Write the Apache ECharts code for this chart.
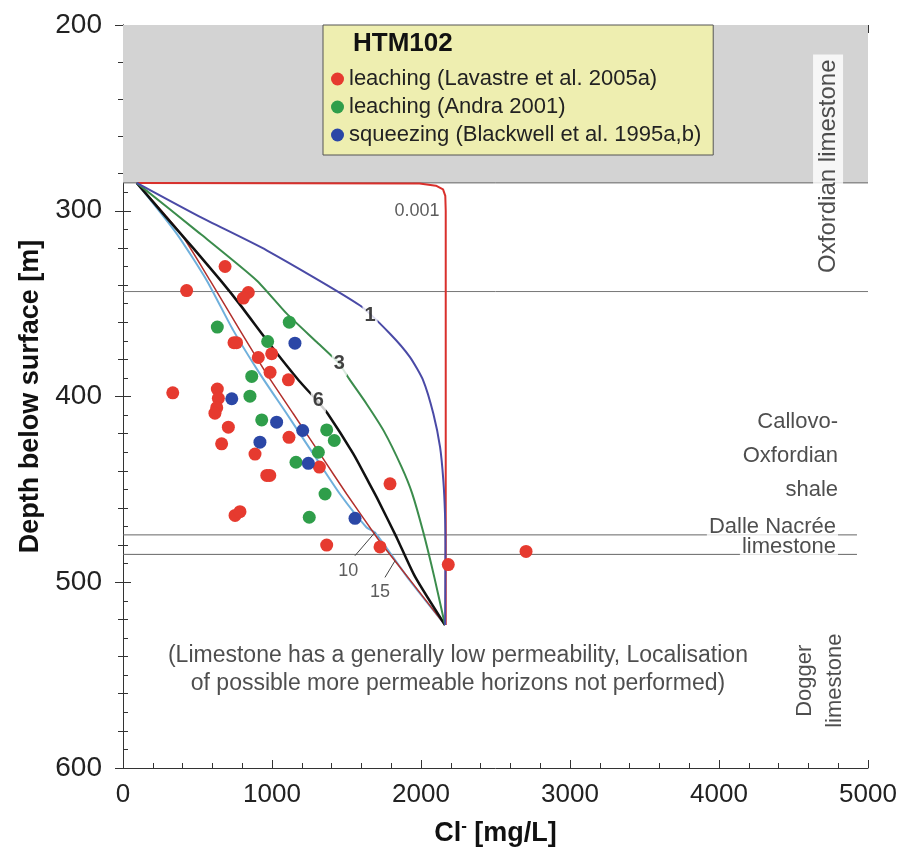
<!DOCTYPE html>
<html><head><meta charset="utf-8">
<script src="https://cdn.jsdelivr.net/npm/echarts/dist/echarts.min.js"></script>
<style>html,body{margin:0;padding:0;background:#fff}#c{width:905px;height:854px}</style>
</head><body><div id="c"></div>
<script>
// ---- data (Cl- mg/L, depth m) ----
const xTickValues = [0, 1000, 2000, 3000, 4000, 5000];
const yTickValues = [200, 300, 400, 500, 600];

const lavastre = [[427,343],[841,344],[808,347],[685,330],[745,371],[762,371],[908,379],[998,377],[987,387],[1110,391],[334,398],[633,396],[640,401],[629,406],[617,409],[707,416.5],[662,425.5],[1114,422],[886,431],[1318,438],[965,442.5],[985,442.5],[1792,447],[752,464],[785,462],[1367,480],[1725,481],[2183,490.5],[2705,483.4]];
const andra = [[633,362.6],[1116,360],[971,370.4],[864,389.2],[852,399.8],[931,412.6],[1367,418],[1418,423.7],[1311,430],[1161,435.4],[1356,452.5],[1250,465]];
const blackwell = [[1154,371.3],[730,401.2],[1031,413.8],[1206,418.3],[919,424.6],[1244,436],[1557,465.6]];

const curveT0001 = [[92,285],[1990,285.3],[2100,286.5],[2148,288.5],[2163,292],[2166,300],[2166,523]];
const curveT1 = [[92,285],[517,303.3],[964,321.3],[1591,351],[1792,366.2],[1926,378.8],[2015,391.4],[2083,409.3],[2128,427.3],[2150,445.3],[2161,463],[2164,480],[2162,523]];
const curveT3 = [[92,285],[517,312.3],[897,337.5],[1099,355.4],[1300,370.7],[1452,382.4],[1518,390.5],[1635,404],[1750,418.5],[1870,438],[1940,452],[2015,473],[2090,497.5],[2161,523]];
const curveT6 = [[92,285],[285,303],[470,320],[655,337.5],[780,350],[1000,373.4],[1180,391.4],[1300,402],[1372,409],[1546,430.9],[1643,445.3],[1703,454.3],[1837,476],[1960,497],[2161,523]];
const curveT10 = [[92,285],[385,312],[584,337.5],[785,364.4],[964,387.8],[1143,409.3],[1322,430.9],[1501,452.5],[1703,475.8],[1736,479.4],[1948,501],[2161,523]];
const curveT15 = [[92,285],[360,312.3],[562,337.5],[740,364.4],[919,387.8],[1099,409.3],[1277,430.9],[1456,452.5],[1635,470.5],[1691,473.2],[1926,499.2],[2161,523]];

const grayZone = [200, 285];
const oxfordianBase = 343.5;
const dalleTop = 474.5, dalleBase = 485;

const curveLabels = [
  {text:'0.001', at:[1973,300.3]},
  {text:'1', at:[1658,356.3]},
  {text:'3', at:[1452,382.4]},
  {text:'6', at:[1311,402.2]},
  {text:'10', at:[1512,493.8]},
  {text:'15', at:[1725,505.5]}
];
const leaders = [
  [[1557,485.7],[1691,473.2]],
  [[1758,497.4],[1826,488.4]]
];
const formationLabels = {
  oxfordian: {text:'Oxfordian limestone', at:[4732,276]},
  callovo: {text:'Callovo-\nOxfordian\nshale', at:[4799,432]},
  dalle: {text:'Dalle Nacrée', at:[4799,470]},
  dalleLime: {text:'limestone', at:[4799,481]},
  dogger: {text:'Dogger\nlimestone', at:[4678,553]},
  note: {text:'(Limestone has a generally low permeability, Localisation\nof possible more permeable horizons not performed)', at:[2248,547]}
};

// ---- chart ----
const FONT = "'Liberation Sans', Arial, sans-serif";
const chart = echarts.init(document.getElementById('c'), null, {renderer:'canvas'});

function lineS(data, color, width, z, smooth) {
  return {type:'line', data, symbol:'none', smooth: smooth || false, silent:true, z,
    lineStyle:{color, width}, xAxisIndex:0, yAxisIndex:0};
}
function textS(items, label, z) {
  return {type:'scatter', symbolSize:0, silent:true, z: z || 20,
    data: items.map(t => ({value:t.at, name:t.text})),
    label: Object.assign({show:true, position:'inside', formatter: p => p.name,
      fontFamily: FONT, color:'#222'}, label)};
}
function pts(name, data, color) {
  return {type:'scatter', name, data, symbol:'circle', symbolSize:13, z:15,
    itemStyle:{color, opacity:1}};
}

const fl = formationLabels;
const axisCommon = {
  axisLine:{show:true, lineStyle:{color:'#333', width:1}},
  splitLine:{show:false}
};

chart.setOption({
  animation:false,
  backgroundColor:'#fff',
  title:{text:'HTM102', left:353, top:31, padding:0,
    textStyle:{fontFamily:FONT, fontSize:26, fontWeight:'bold', color:'#111'}},
  legend:{orient:'vertical', left:323, top:25,
    padding:[42,12,8,8], itemGap:4, itemWidth:13, itemHeight:13, icon:'circle',
    backgroundColor:'#eeeeb0', borderColor:'#555', borderWidth:1,
    textStyle:{fontFamily:FONT, fontSize:22, lineHeight:24, color:'#222'},
    data:['leaching (Lavastre et al. 2005a)','leaching (Andra 2001)','squeezing (Blackwell et al. 1995a,b)']},
  grid:{left:123, right:37, top:25, bottom:86},
  xAxis:[
    Object.assign({type:'value', min:0, max:5000, interval:1000, position:'bottom',
      name:'{b|Cl}{s|-}{b| [mg/L]}', nameLocation:'middle', nameGap:50,
      nameTextStyle:{rich:{
        b:{fontFamily:FONT, fontSize:27, fontWeight:'bold', color:'#111'},
        s:{fontFamily:FONT, fontSize:17, fontWeight:'bold', color:'#111', padding:[0,0,14,0]}}},
      axisTick:{show:true, inside:true, length:8, lineStyle:{color:'#333'}},
      minorTick:{show:true, splitNumber:5, length:5, lineStyle:{color:'#333'}},
      axisLabel:{fontFamily:FONT, fontSize:26, color:'#222', margin:14, formatter: v => String(v)}}, axisCommon),
    Object.assign({type:'value', min:0, max:5000, interval:1000, position:'top',
      axisTick:{show:true, inside:true, length:8, lineStyle:{color:'#333'}},
      minorTick:{show:true, splitNumber:5, length:5, lineStyle:{color:'#333'}},
      axisLabel:{show:false}}, axisCommon)
  ],
  yAxis:[
    Object.assign({type:'value', min:200, max:600, interval:100, inverse:true, position:'left',
      name:'Depth below surface [m]', nameLocation:'middle', nameGap:68, nameRotate:90,
      nameTextStyle:{fontFamily:FONT, fontSize:27, fontWeight:'bold', color:'#111'},
      axisTick:{show:true, inside:true, length:8, lineStyle:{color:'#333'}},
      minorTick:{show:true, splitNumber:10, length:5, lineStyle:{color:'#333'}},
      axisLabel:{fontFamily:FONT, fontSize:28, color:'#222', margin:21, formatter: v => String(v)}}, axisCommon),
    Object.assign({type:'value', min:200, max:600, interval:100, inverse:true, position:'right',
      axisTick:{show:true, inside:true, length:8, lineStyle:{color:'#333'}},
      minorTick:{show:true, splitNumber:5, length:5, lineStyle:{color:'#333'}},
      axisLabel:{show:false}}, axisCommon)
  ],
  series:[
    Object.assign(lineS([[0,oxfordianBase],[5000,oxfordianBase]], '#777', 1, 2), {
      markArea:{silent:true, itemStyle:{color:'#d3d3d3'},
        data:[[{coord:[0,grayZone[0]]},{coord:[5000,grayZone[1]]}]]}}),
    lineS([[0,grayZone[1]],[5000,grayZone[1]]], '#666', 1, 3),
    lineS([[0,dalleTop],[4926,dalleTop]], '#666', 1, 3),
    lineS([[0,dalleBase],[4926,dalleBase]], '#666', 1, 3),
    lineS(curveT0001, '#d9302c', 2, 5),
    lineS(curveT15, '#6fb0dc', 2, 6, 0.2),
    lineS(curveT10, '#b2302c', 1.5, 6, 0.2),
    lineS(curveT6, '#111111', 2.5, 7, 0.2),
    lineS(curveT3, '#3b8c4c', 2, 7, 0.2),
    lineS(curveT1, '#4a4aa6', 2, 8, 0.2),
    lineS(leaders[0], '#444', 1, 9),
    lineS(leaders[1], '#444', 1, 9),
    pts('leaching (Lavastre et al. 2005a)', lavastre, '#e63a2f'),
    pts('leaching (Andra 2001)', andra, '#2f9e4a'),
    pts('squeezing (Blackwell et al. 1995a,b)', blackwell, '#2b47a6'),
    textS(curveLabels.slice(0,1), {fontSize:18, color:'#333'}),
    textS(curveLabels.slice(1,4), {fontSize:20, color:'#111', fontWeight:'bold', backgroundColor:'#fff', padding:[2,2]}),
    textS(curveLabels.slice(4), {fontSize:18, color:'#333'}),
    textS([fl.oxfordian], {fontSize:24, rotate:90, backgroundColor:'#fff', padding:[3,5]}),
    textS([fl.callovo], {fontSize:22, align:'right', lineHeight:34}),
    textS([fl.dalle], {fontSize:22, align:'right', backgroundColor:'#fff', padding:[0,2]}),
    textS([fl.dalleLime], {fontSize:22, align:'right', backgroundColor:'#fff', padding:[0,2], lineHeight:18}),
    textS([fl.dogger], {fontSize:22, rotate:90, lineHeight:30}),
    textS([fl.note], {fontSize:23, align:'center', lineHeight:28})
  ]
});
</script></body></html>
